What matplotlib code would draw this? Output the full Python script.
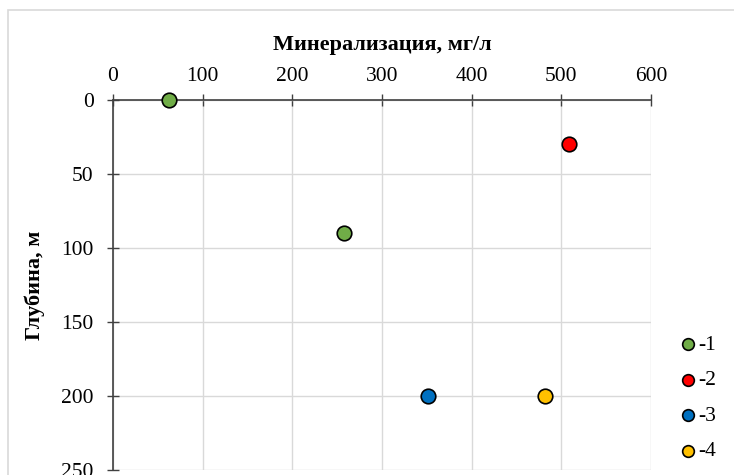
import matplotlib
matplotlib.use("Agg")
from matplotlib import pyplot as plt
from matplotlib.patches import Rectangle

# минерализация (мг/л) и глубина (м) по группам
labels = ["-1", "-2", "-3", "-4"]
mineral = [[62, 258], [508], [351], [482]]
depth = [[0, 90], [30], [200], [200]]
colors = ["#70AD47", "#FF0000", "#0070C0", "#FFC000"]

x_ticks = [0, 100, 200, 300, 400, 500, 600]
y_ticks = [0, 50, 100, 150, 200, 250]

plt.rcParams["font.family"] = ["Liberation Serif", "DejaVu Serif"]
fontsize = 15.5

fig = plt.figure(figsize=(7.34, 4.75), dpi=100)
W, H = 734, 475
ax = fig.add_axes([113 / W, 1 - 470 / H, (651 - 113) / W, (470 - 100) / H])

# рамка диаграммы
fig.patches.append(Rectangle((8 / W, -0.1), 1.2, 1 - 10 / H + 0.1,
                             transform=fig.transFigure, fill=False,
                             edgecolor="#d9d9d9", linewidth=1.2))

for i in range(len(labels)):
    ax.scatter(mineral[i], depth[i], s=110, color=colors[i], edgecolors="black",
               linewidths=1.2, label=labels[i], zorder=3, clip_on=False)

ax.set_xlim(0, 600)
ax.set_ylim(250, 0)
ax.set_xticks(x_ticks)
ax.set_yticks(y_ticks)
ax.xaxis.tick_top()
ax.xaxis.set_label_position("top")
ax.grid(True, color="#d9d9d9", linewidth=1)
ax.set_axisbelow(True)
for side in ["right", "bottom"]:
    ax.spines[side].set_visible(False)
for side in ["top", "left"]:
    ax.spines[side].set_color("#404040")
    ax.spines[side].set_linewidth(1.2)
ax.tick_params(direction="inout", length=8, width=1, color="#404040",
               labelsize=fontsize)
ax.tick_params(axis="x", pad=6)
ax.tick_params(axis="y", pad=10)

ax.set_xlabel("Минерализация, мг/л", fontsize=16, fontweight="bold", labelpad=12)
fig.text(35 / W, 1 - 285 / H, "Глубина, м", rotation=90, fontsize=16,
         fontweight="bold", ha="center", va="center")

fig.legend(loc="center left", bbox_to_anchor=(677 / W, 1 - 398 / H),
           bbox_transform=fig.transFigure, frameon=False,
           fontsize=fontsize, markerscale=0.8, handletextpad=0.0,
           handlelength=1.0, labelspacing=0.72, borderaxespad=0, borderpad=0)

fig.savefig("out.png", dpi=100)
